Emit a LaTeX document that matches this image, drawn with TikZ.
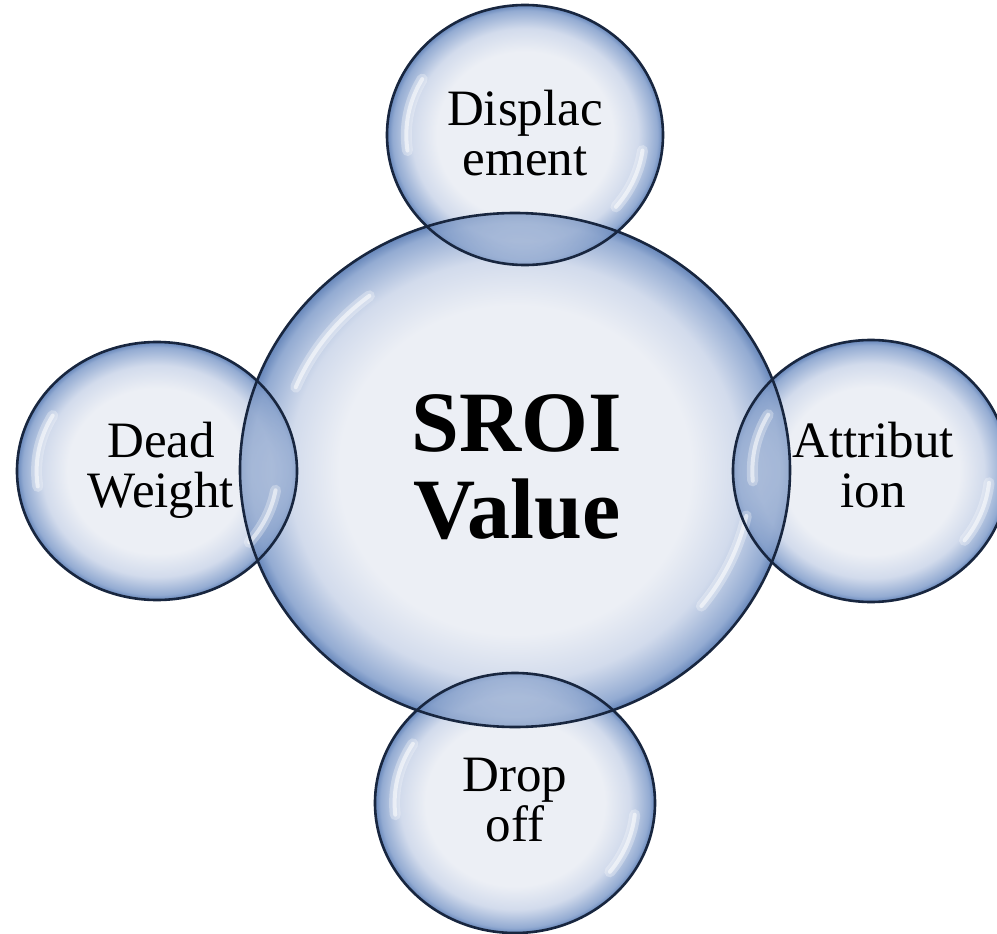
\documentclass[tikz,border=0pt]{standalone}
\usepackage{fontspec}
\setmainfont{Liberation Serif}
\usetikzlibrary{shapes.geometric}
\definecolor{bubin}{HTML}{ECEFF5}
\definecolor{bubmid}{HTML}{D2DBEC}
\definecolor{bubout}{HTML}{93ABD2}
\definecolor{bubedge}{HTML}{6686BA}
\definecolor{rimcol}{HTML}{18263F}
\definecolor{lenscol}{HTML}{5E80B8}
\pgfdeclareradialshading{bubble}{\pgfpoint{0bp}{0bp}}{color(0bp)=(bubin); color(16bp)=(bubin); color(20.5bp)=(bubmid); color(24bp)=(bubout); color(25bp)=(bubedge); color(50bp)=(bubedge)}
\begin{document}
\begin{tikzpicture}[x=1pt,y=-1pt,
  bubble/.style={ellipse, shading=bubble, inner sep=0pt, outer sep=0pt},
  rim/.style={draw=rimcol, line width=2.6pt},
  shine/.style={draw=white, line cap=round},
  lbl/.style={font=\fontsize{51}{50}\selectfont, align=center, inner sep=0pt, text=black},
  big/.style={font=\fontsize{86}{87}\selectfont\bfseries, align=center, inner sep=0pt, text=black}]
\useasboundingbox (0,0) rectangle (997,934);
\fill[white] (0,0) rectangle (997,934);
% bubbles
\node[bubble, minimum width=550pt, minimum height=514pt] (main) at (515,470) {};
\node[bubble, minimum width=276pt, minimum height=260pt] (top) at (525,135) {};
\node[bubble, minimum width=280pt, minimum height=260pt] (bottom) at (515,803) {};
\node[bubble, minimum width=280pt, minimum height=258pt] (left) at (157,471) {};
\node[bubble, minimum width=276pt, minimum height=262pt] (right) at (871,471) {};
% overlaps
\foreach \n/\rx/\ry in {top/138/130, bottom/140/130, left/140/129, right/138/131}{
  \begin{scope}
    \clip (\n.center) ellipse [x radius=\rx pt, y radius=\ry pt];
    \shade[shading=bubble, opacity=0.5] (main.center) ellipse [x radius=275pt, y radius=257pt];
    \fill[lenscol, opacity=0.25] (main.center) ellipse [x radius=275pt, y radius=257pt];
  \end{scope}
}
% highlights
\foreach \n/\rx/\ry/\sa/\ea/\sb/\eb in {main/275/257/128/158/-38/-12, top/138/130/150/188/-40/-8, bottom/140/130/148/186/-38/-6, left/140/129/150/188/-40/-10, right/138/131/150/185/-38/-6}{
  \pgfmathsetmacro\ax{0.86*\rx}
  \pgfmathsetmacro\ay{0.86*\ry}
  \draw[shine, line width=11pt, opacity=0.3] (\n.center) ++(\sa:\ax pt and \ay pt) arc[start angle=\sa, end angle=\ea, x radius=\ax pt, y radius=\ay pt];
  \draw[shine, line width=4pt, opacity=0.55] (\n.center) ++(\sa:\ax pt and \ay pt) arc[start angle=\sa, end angle=\ea, x radius=\ax pt, y radius=\ay pt];
  \draw[shine, line width=11pt, opacity=0.3] (\n.center) ++(\sb:\ax pt and \ay pt) arc[start angle=\sb, end angle=\eb, x radius=\ax pt, y radius=\ay pt];
  \draw[shine, line width=4pt, opacity=0.55] (\n.center) ++(\sb:\ax pt and \ay pt) arc[start angle=\sb, end angle=\eb, x radius=\ax pt, y radius=\ay pt];
}
% rims
\draw[rim] (main.center) ellipse [x radius=275pt, y radius=257pt];
\draw[rim] (top.center) ellipse [x radius=138pt, y radius=130pt];
\draw[rim] (bottom.center) ellipse [x radius=140pt, y radius=130pt];
\draw[rim] (left.center) ellipse [x radius=140pt, y radius=129pt];
\draw[rim] (right.center) ellipse [x radius=138pt, y radius=131pt];
% labels
\node[big] (tmain) at (517,467) {SROI\\Value};
\node[lbl] (ttop) at (525,133) {Displac\\ement};
\node[lbl] (tleft) at (161,470) {Dead\\Weight};
\node[lbl] (tright) at (873,465) {Attribut\\ion};
\node[lbl] (tbottom) at (515,800) {Drop\\off};
\end{tikzpicture}
\end{document}
